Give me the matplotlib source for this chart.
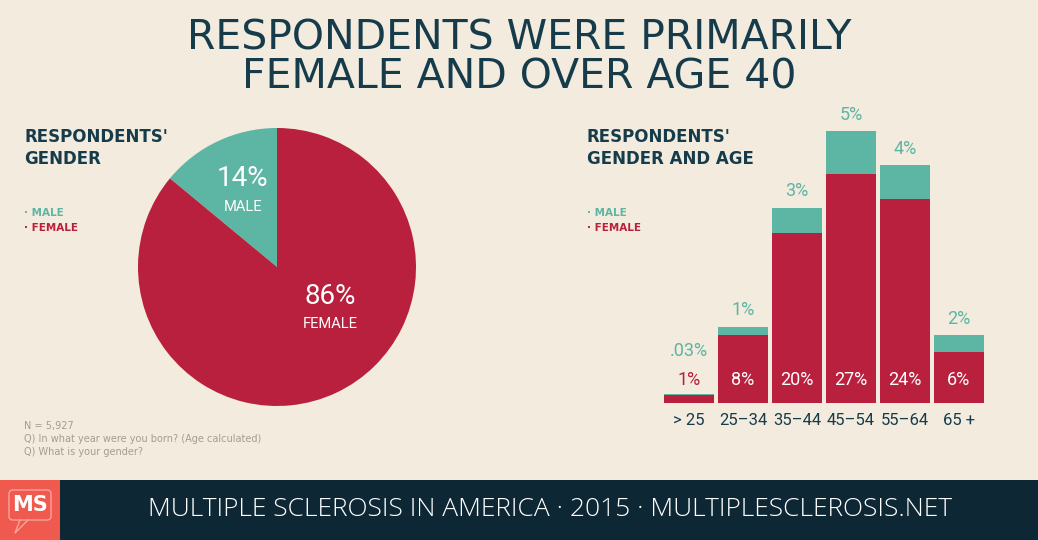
import matplotlib
matplotlib.use("Agg")
import matplotlib.pyplot as plt
from matplotlib.patches import Rectangle, FancyBboxPatch

# ---- data ----
gender_labels = ["MALE", "FEMALE"]
gender_pct = [14, 86]
age_groups = ["> 25", "25–34", "35–44", "45–54", "55–64", "65 +"]
female_pct = [1, 8, 20, 27, 24, 6]
male_pct = [0.03, 1, 3, 5, 4, 2]
female_lbl = ["1%", "8%", "20%", "27%", "24%", "6%"]
male_lbl = [".03%", "1%", "3%", "5%", "4%", "2%"]

BG = "#F2EBDE"
TEAL = "#5DB5A4"
RED = "#B8203D"
NAVY = "#163C4C"
FOOT = "#0E2734"
CORAL = "#F05A4E"
GREY = "#A39D93"

W, H = 1038, 540
fig = plt.figure(figsize=(W / 100, H / 100), dpi=100, facecolor=BG)

def px(x, y):
    return x / W, 1 - y / H

def ax_at(l, t, r, b):
    return fig.add_axes([l / W, 1 - b / H, (r - l) / W, (b - t) / H])

cond = dict(family="Roboto")

# title
fig.text(*px(519, 58), "RESPONDENTS WERE PRIMARILY\nFEMALE AND OVER AGE 40",
         ha="center", va="center", fontsize=29.5, color=NAVY, linespacing=0.96)

# section headings
for x, t in [(24, "RESPONDENTS'\nGENDER"), (587, "RESPONDENTS'\nGENDER AND AGE")]:
    fig.text(*px(x, 148), t, ha="left", va="center", fontsize=12, fontweight="bold",
             color=NAVY, linespacing=1.3)
    fig.text(*px(x, 213), "· MALE", ha="left", va="center", fontsize=7.5,
             fontweight="bold", color=TEAL)
    fig.text(*px(x, 228), "· FEMALE", ha="left", va="center", fontsize=7.5,
             fontweight="bold", color=RED)

# pie
pax = ax_at(138, 128, 416, 406)
pax.pie(gender_pct, colors=[TEAL, RED], startangle=90, counterclock=True,
        radius=1, wedgeprops=dict(linewidth=0))
pax.set_xlim(-1, 1); pax.set_ylim(-1, 1); pax.set_aspect("equal")
pax.set_facecolor("none")
pax.text(-0.245, 0.64, f"{gender_pct[0]}%", ha="center", va="center", color="white", fontsize=20, **cond)
pax.text(-0.245, 0.43, gender_labels[0], ha="center", va="center", color="white", fontsize=10.5, **cond)
pax.text(0.38, -0.21, f"{gender_pct[1]}%", ha="center", va="center", color="white", fontsize=20, **cond)
pax.text(0.38, -0.41, gender_labels[1], ha="center", va="center", color="white", fontsize=10.5, **cond)

# footnote
fig.text(*px(24, 439), "N = 5,927\nQ) In what year were you born? (Age calculated)\nQ) What is your gender?",
         ha="left", va="center", fontsize=7, color=GREY, linespacing=1.35)

# bars
bax = ax_at(662, 105.5, 986, 403)
bax.set_facecolor("none")
x = list(range(len(age_groups)))
bw = 50 / 54
bax.bar(x, female_pct, width=bw, color=RED, linewidth=0)
bax.bar(x, male_pct, bottom=female_pct, width=bw, color=TEAL, linewidth=0)
bax.set_xlim(-0.5, len(age_groups) - 0.5)
bax.set_ylim(0, 35)
for s in bax.spines.values():
    s.set_visible(False)
bax.set_yticks([])
bax.set_xticks(x)
bax.set_xticklabels(age_groups, color=NAVY, fontsize=12, **cond)
bax.tick_params(axis="x", length=0, pad=7)
for i in x:
    top = female_pct[i] + male_pct[i]
    inside = female_pct[i] >= 4
    bax.text(i, 2.7, female_lbl[i], ha="center", va="center",
             color="white" if inside else RED, fontsize=13, **cond)
    my = top + 1.9 if inside else 2.7 + 3.4
    bax.text(i, my, male_lbl[i], ha="center", va="center", color=TEAL, fontsize=13,
             clip_on=False, **cond)

# footer
fax = ax_at(0, 480, W, H)
fax.set_xlim(0, W); fax.set_ylim(H, 480)
fax.axis("off")
fax.add_patch(Rectangle((0, 480), W, 60, color=FOOT, lw=0))
fax.add_patch(Rectangle((0, 480), 60, 60, color=CORAL, lw=0))
fax.add_patch(FancyBboxPatch((9, 490), 42, 30, boxstyle="round,pad=0,rounding_size=4",
                             fill=False, ec="#F7A49C", lw=1))
fax.plot([20, 15, 28], [520, 533, 520], color="#F7A49C", lw=1)
fax.text(30, 505, "MS", ha="center", va="center", color="white", fontsize=15, fontweight="bold")
fax.text(550, 510, "MULTIPLE SCLEROSIS IN AMERICA · 2015 · MULTIPLESCLEROSIS.NET",
         ha="center", va="center", color="white", fontsize=19, family="Open Sans", fontweight=300)

fig.savefig("out.png", dpi=100, facecolor=BG)
